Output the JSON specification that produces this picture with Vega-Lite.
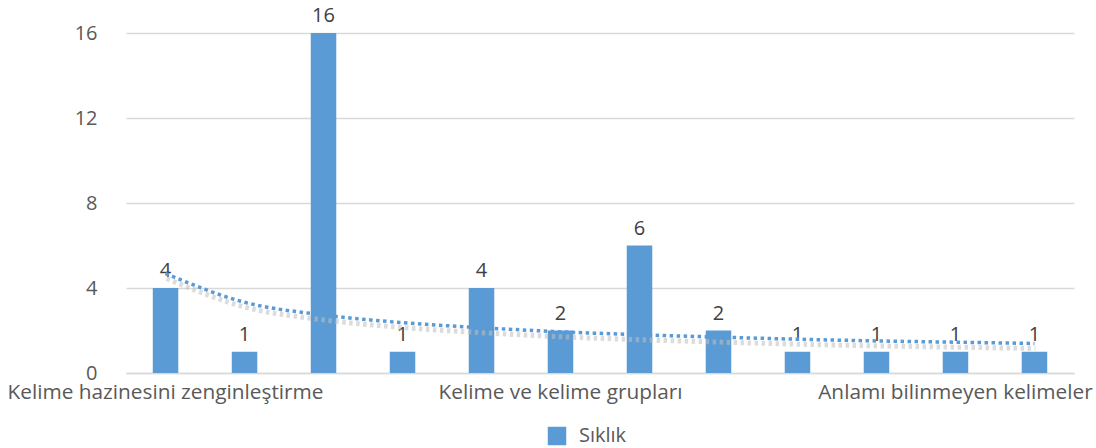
{
  "$schema": "https://vega.github.io/schema/vega-lite/v6.json",
  "width": 948,
  "height": 340,
  "autosize": {"type": "none"},
  "padding": {"left": 126, "top": 33, "right": 22, "bottom": 75},
  "background": "white",
  "config": {
    "view": {"stroke": null},
    "font": "Open Sans"
  },
  "data": {
    "values": [
      {"idx": 1, "value": 4, "trend": 4.68},
      {"idx": 2, "value": 1, "trend": 3.33},
      {"idx": 3, "value": 16, "trend": 2.73},
      {"idx": 4, "value": 1, "trend": 2.37},
      {"idx": 5, "value": 4, "trend": 2.13},
      {"idx": 6, "value": 2, "trend": 1.94},
      {"idx": 7, "value": 6, "trend": 1.80},
      {"idx": 8, "value": 2, "trend": 1.69},
      {"idx": 9, "value": 1, "trend": 1.59},
      {"idx": 10, "value": 1, "trend": 1.51},
      {"idx": 11, "value": 1, "trend": 1.45},
      {"idx": 12, "value": 1, "trend": 1.39}
    ]
  },
  "encoding": {
    "x": {
      "field": "idx",
      "type": "ordinal",
      "scale": {"paddingInner": 0.677, "paddingOuter": 0.339},
      "axis": {
        "title": null,
        "labelAngle": 0,
        "labelOverlap": false,
        "labelBound": false,
        "labelFlush": false,
        "labelLimit": 0,
        "ticks": false,
        "domainColor": "#d9d9d9",
        "domainWidth": 1.5,
        "labelPadding": 9,
        "labelFont": "Open Sans",
        "labelFontSize": 20.8,
        "labelColor": "#595959",
        "labelExpr": "datum.value == 1 ? 'Kelime hazinesini zenginleştirme' : datum.value == 6 ? 'Kelime ve kelime grupları' : datum.value == 11 ? 'Anlamı bilinmeyen kelimeler' : ''"
      }
    }
  },
  "layer": [
    {
      "mark": {"type": "bar", "color": "#5b9bd5"},
      "encoding": {
        "y": {
          "field": "value",
          "type": "quantitative",
          "scale": {"domain": [0, 16], "nice": false},
          "axis": {
            "title": null,
            "values": [0, 4, 8, 12, 16],
            "domain": false,
            "ticks": false,
            "gridColor": "#d9d9d9",
            "gridWidth": 1.5,
            "labelPadding": 29,
            "labelFont": "Open Sans",
            "labelFontSize": 20,
            "labelColor": "#595959"
          }
        },
        "color": {
          "datum": "Sıklık",
          "scale": {"range": ["#5b9bd5"]},
          "legend": {
            "title": null,
            "orient": "none",
            "legendX": 421,
            "legendY": 393,
            "padding": 0,
            "symbolType": "square",
            "symbolSize": 342,
            "symbolStrokeWidth": 0,
            "symbolOpacity": 1,
            "labelOffset": 12,
            "labelFont": "Open Sans",
            "labelFontSize": 20,
            "labelColor": "#595959"
          }
        }
      }
    },
    {
      "mark": {"type": "text", "baseline": "alphabetic", "dy": -11, "fontSize": 20, "font": "Open Sans", "color": "#404040"},
      "encoding": {
        "y": {"field": "value", "type": "quantitative"},
        "text": {"field": "value", "type": "quantitative"}
      }
    },
    {
      "mark": {"type": "line", "interpolate": "monotone", "color": "#bfbfbf", "opacity": 0.55, "strokeWidth": 5, "strokeDash": [3.5, 3.5], "yOffset": 5, "xOffset": 1},
      "encoding": {
        "y": {"field": "trend", "type": "quantitative"}
      }
    },
    {
      "mark": {"type": "line", "interpolate": "monotone", "color": "#5b9bd5", "strokeWidth": 3.5, "strokeDash": [3.5, 3.5]},
      "encoding": {
        "y": {"field": "trend", "type": "quantitative"}
      }
    }
  ]
}
